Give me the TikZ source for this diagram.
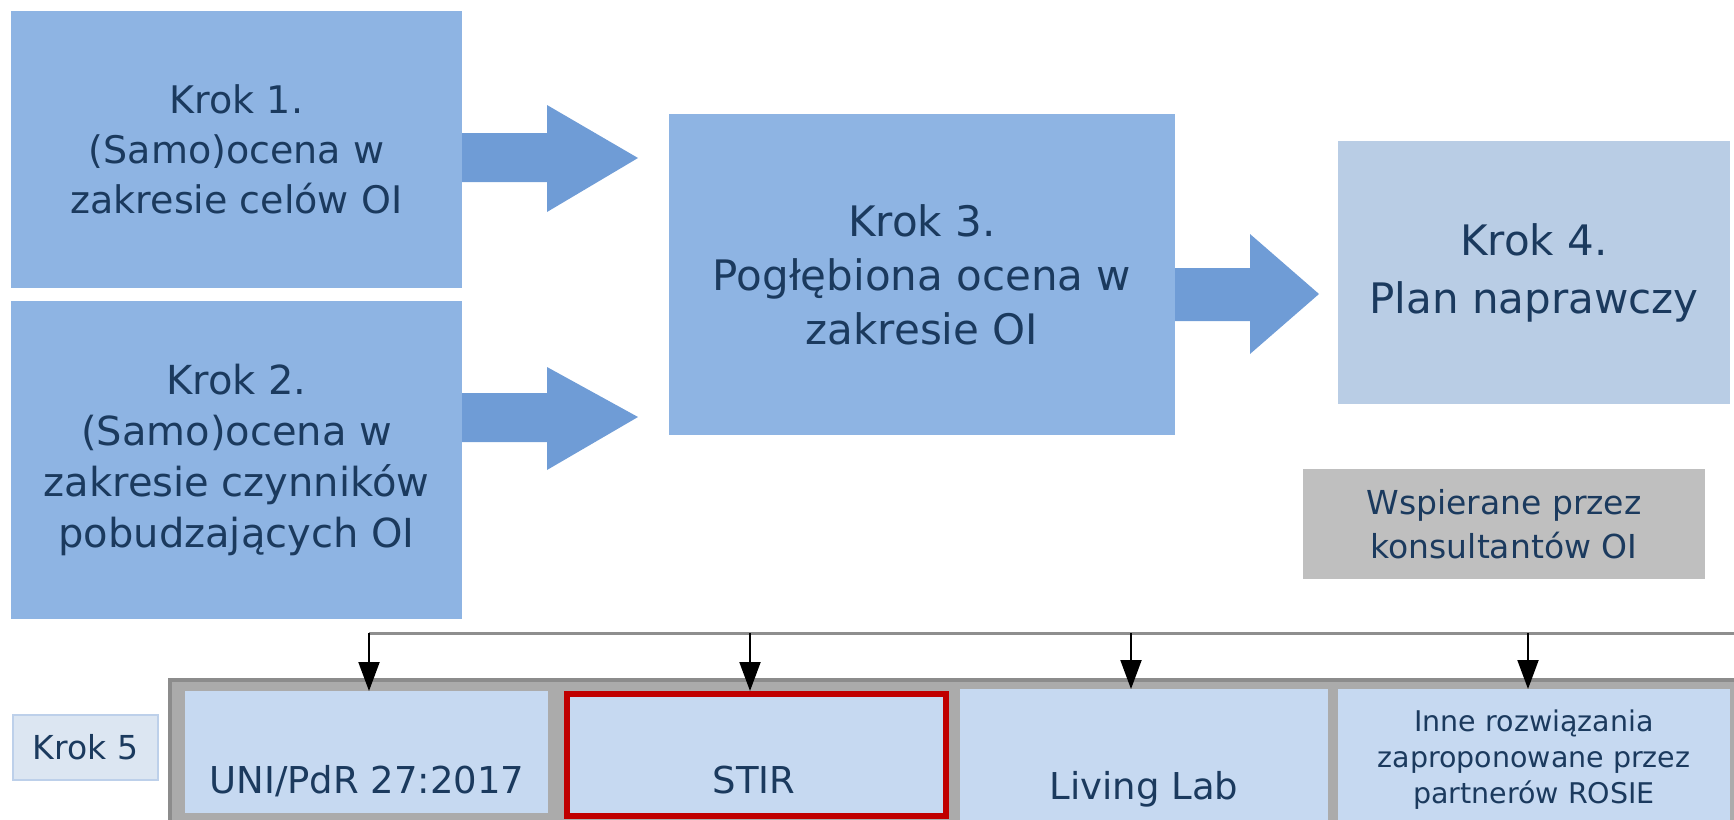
\documentclass[tikz,border=0pt]{standalone}
\usepackage{fontspec}
\setmainfont{DejaVu Sans}
\usetikzlibrary{arrows.meta}

\definecolor{stepblue}{HTML}{8EB4E3}
\definecolor{planblue}{HTML}{B9CDE5}
\definecolor{arrowblue}{HTML}{6F9CD6}
\definecolor{toolblue}{HTML}{C6D9F1}
\definecolor{labelblue}{HTML}{DCE6F2}
\definecolor{labeledge}{HTML}{BDD0EA}
\definecolor{navy}{HTML}{1B3A5E}
\definecolor{panelgray}{HTML}{ABABAB}
\definecolor{paneledge}{HTML}{8C8C8C}
\definecolor{supportgray}{HTML}{BFBFBF}
\definecolor{busgray}{HTML}{8E8E8E}
\definecolor{stirred}{HTML}{C00000}

\tikzset{
  stepbox/.style={fill=stepblue, inner sep=0pt, align=center, text=navy,
    font=\fontsize{40}{51}\selectfont},
  toolbox/.style={fill=toolblue, inner sep=0pt, anchor=north west},
  tooltext/.style={text=navy, align=center, inner sep=0pt, anchor=base,
    font=\fontsize{37}{46}\selectfont},
  bigarrow/.style={fill=arrowblue},
  drop/.style={draw=black, line width=2pt, -{Triangle[length=29pt,width=21pt]}}
}

\begin{document}
\begin{tikzpicture}[x=1pt, y=-1pt]
  \useasboundingbox (0,0) rectangle (1734,819);
  \clip (0,0) rectangle (1734,819);

  % Steps 1--4
  \node[stepbox, minimum width=451pt, minimum height=277pt,
    font=\fontsize{38}{50}\selectfont] (krok1) at (236.5,149.5)
    {Krok 1.\\(Samo)ocena w\\zakresie celów OI};
  \node[stepbox, minimum width=451pt, minimum height=318pt] (krok2) at (236.5,460)
    {Krok 2.\\(Samo)ocena w\\zakresie czynników\\pobudzających OI};
  \node[stepbox, minimum width=506pt, minimum height=321pt,
    font=\fontsize{42}{54}\selectfont] (krok3) at (922,274.5)
    {Krok 3.\\Pogłębiona ocena w\\zakresie OI};
  \node[stepbox, fill=planblue, minimum width=392pt, minimum height=263pt,
    font=\fontsize{42}{58}\selectfont] (krok4) at (1534,272.5)
    {Krok 4.\\Plan naprawczy};

  % Block arrows
  \fill[bigarrow] (462,133) -- (547,133) -- (547,105) -- (638,158)
    -- (547,212) -- (547,182) -- (462,182) -- cycle;
  \fill[bigarrow] (462,393) -- (547,393) -- (547,367) -- (638,417)
    -- (547,470) -- (547,442) -- (462,442) -- cycle;
  \fill[bigarrow] (1175,268) -- (1250,268) -- (1250,234) -- (1319,294)
    -- (1250,354) -- (1250,321) -- (1175,321) -- cycle;

  % Support note
  \node[fill=supportgray, text=navy, align=center, inner sep=0pt,
    minimum width=402pt, minimum height=110pt,
    font=\fontsize{33}{44}\selectfont] (support) at (1504,524)
    {Wspierane przez\\konsultantów OI};

  % Step 5 panel
  \fill[panelgray] (168,678) rectangle (1750,830);
  \draw[paneledge, line width=4pt] (170,830) -- (170,680) -- (1750,680);
  \node[fill=labelblue, draw=labeledge, line width=2pt, text=navy, inner sep=0pt,
    minimum width=145pt, minimum height=65pt,
    font=\fontsize{33}{40}\selectfont] (krok5) at (85.5,747.5) {Krok 5};

  \node[toolbox, minimum width=363pt, minimum height=122pt] (uni) at (185,691) {};
  \node[toolbox, draw=stirred, line width=6pt, minimum width=379pt,
    minimum height=122pt] (stir) at (564,691) {};
  \node[toolbox, minimum width=368pt, minimum height=140pt] (living) at (960,689) {};
  \node[toolbox, minimum width=392pt, minimum height=140pt] (inne) at (1338,689) {};

  \node[tooltext] (unitext) at (367,793) {UNI/PdR 27:2017};
  \node[tooltext] (stirtext) at (754,793) {STIR};
  \node[tooltext] (livingtext) at (1144,799) {Living Lab};
  \node[tooltext, anchor=center, font=\fontsize{28.5}{36}\selectfont] (innetext)
    at (1534,759.5) {Inne rozwiązania\\zaproponowane przez\\partnerów ROSIE};

  % Distribution line
  \coordinate (bus1) at (369,633);
  \coordinate (bus2) at (750,633);
  \coordinate (bus3) at (1131,633);
  \coordinate (bus4) at (1528,633);
  \coordinate (busend) at (1734,633);
  \draw[busgray, line width=3pt] (bus1) -- (busend);
  \draw[drop] (bus1) -- (bus1 |- uni.north);
  \draw[drop] (bus2) -- (bus2 |- stir.north);
  \draw[drop] (bus3) -- (bus3 |- living.north);
  \draw[drop] (bus4) -- (bus4 |- inne.north);
\end{tikzpicture}
\end{document}
